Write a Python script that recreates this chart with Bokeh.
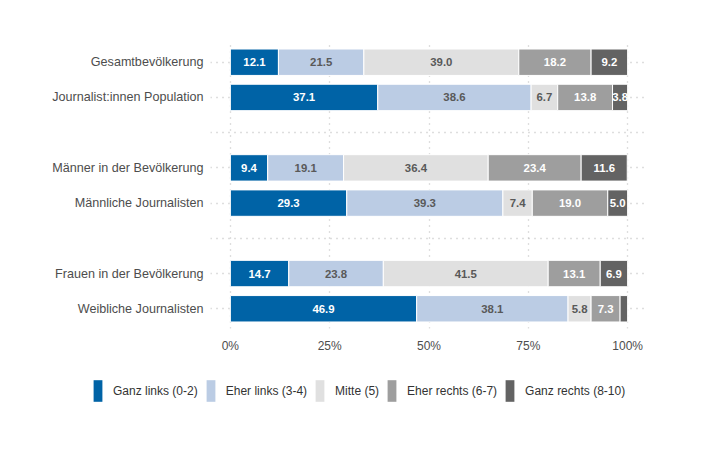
from bokeh.plotting import figure
from bokeh.models import (ColumnDataSource, FactorRange, Range1d, FixedTicker,
                          PrintfTickFormatter, Legend, LegendItem)
from bokeh.core.properties import value
from bokeh.embed import file_html
from bokeh.resources import INLINE

# Daten (Anteile in %)
groups = ["Gesamtbevölkerung", "Journalist:innen Population",
          "Männer in der Bevölkerung", "Männliche Journalisten",
          "Frauen in der Bevölkerung", "Weibliche Journalisten"]
ganz_links = [12.1, 37.1, 9.4, 29.3, 14.7, 46.9]
eher_links = [21.5, 38.6, 19.1, 39.3, 23.8, 38.1]
mitte = [39.0, 6.7, 36.4, 7.4, 41.5, 5.8]
eher_rechts = [18.2, 13.8, 23.4, 19.0, 13.1, 7.3]
ganz_rechts = [9.2, 3.8, 11.6, 5.0, 6.9, 1.9]

categories = ["Ganz links (0-2)", "Eher links (3-4)", "Mitte (5)",
              "Eher rechts (6-7)", "Ganz rechts (8-10)"]
colors = ["#0063a6", "#bbcce4", "#e0e0e0", "#9e9e9e", "#636363"]
text_colors = ["white", "#595959", "#595959", "white", "white"]
x_ticks = [0, 25, 50, 75, 100]

# Reihenfolge von oben nach unten, mit Leerzeilen zwischen den Blöcken
rows = [groups[0], groups[1], " ", groups[2], groups[3], "  ", groups[4], groups[5]]

keys = ["k0", "k1", "k2", "k3", "k4"]
series = [ganz_links, eher_links, mitte, eher_rechts, ganz_rechts]
src = ColumnDataSource(dict(group=groups, **{k: s for k, s in zip(keys, series)}))

p = figure(width=700, height=360, output_backend="svg", toolbar_location=None,
           y_range=FactorRange(factors=rows[::-1], range_padding=0.06,
                               range_padding_units="absolute"),
           x_range=Range1d(-5, 105),
           min_border_left=210, min_border_right=53,
           min_border_top=42, min_border_bottom=32)
p.outline_line_color = None

renderers = p.hbar_stack(keys, y="group", height=0.75, color=colors,
                         line_color="white", line_width=1, source=src)

# Beschriftung der Segmente
tx, ty, tt, tc = [], [], [], []
for i, g in enumerate(groups):
    left = 0
    for j, s in enumerate(series):
        v = s[i]
        if v >= 2:
            tx.append(left + v / 2)
            ty.append(g)
            tt.append("%.1f" % v)
            tc.append(text_colors[j])
        left += v
lab = ColumnDataSource(dict(x=tx, y=ty, text=tt, color=tc))
p.text(x="x", y="y", text="text", text_color="color", source=lab,
       text_align="center", text_baseline="middle",
       text_font=value("Liberation Sans"), text_font_style="bold",
       text_font_size="11.4px")

for grid in (p.xgrid, p.ygrid):
    grid.grid_line_color = "#bdbdbd"
    grid.grid_line_dash = "1 5"
    grid.grid_line_width = 1.3
p.xgrid.ticker = FixedTicker(ticks=x_ticks)

p.xaxis.ticker = FixedTicker(ticks=x_ticks)
p.xaxis.formatter = PrintfTickFormatter(format="%d%%")
for ax in (p.xaxis, p.yaxis):
    ax.axis_line_color = None
    ax.major_tick_line_color = None
    ax.minor_tick_line_color = None
    ax.major_tick_out = 0
    ax.major_label_text_font = "Liberation Sans"
    ax.major_label_text_color = "#4d4d4d"
p.xaxis.major_label_text_font_size = "12px"
p.yaxis.major_label_text_font_size = "12.6px"
p.xaxis.major_label_standoff = 10
p.yaxis.major_label_standoff = 7

# Legende als eigene Fläche unter dem Diagramm
leg = figure(width=700, height=60, output_backend="svg", toolbar_location=None,
             x_range=Range1d(0, 1), y_range=Range1d(0, 1),
             x_axis_location=None, y_axis_location=None, min_border=0)
leg.outline_line_color = None
leg.grid.visible = False
leg_items = []
for c, col in zip(categories, colors):
    r = leg.hbar(y=[-5], left=[-5], right=[-4], height=0.5, color=col, line_color=None)
    leg_items.append(LegendItem(label=c, renderers=[r]))

legend = Legend(items=leg_items, orientation="horizontal", location=(92, 16),
                glyph_width=11, glyph_height=27, label_standoff=10, spacing=7,
                padding=0, margin=0, border_line_color=None,
                background_fill_alpha=0,
                label_text_font="Liberation Sans", label_text_font_size="12px",
                label_text_color="#333333")
leg.add_layout(legend, "center")

open("out.html", "w").write(file_html([p, leg], INLINE))
